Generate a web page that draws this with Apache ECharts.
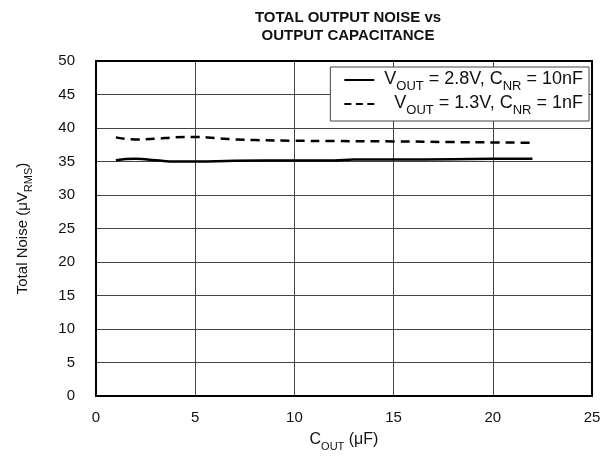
<!DOCTYPE html>
<html>
<head>
<meta charset="utf-8">
<script src="https://cdn.jsdelivr.net/npm/echarts@6/dist/echarts.min.js"></script>
<style>
html,body{margin:0;padding:0;background:#fff;}
#graph{width:614px;height:459px;}
</style>
</head>
<body>
<div id="graph"></div>
<script>
// values
var xSolid = [1, 2, 3, 4, 5, 7, 10, 12, 13, 15, 18, 20, 22];
var ySolid = [35.2, 35.4, 35.2, 35.0, 35.0, 35.1, 35.15, 35.15, 35.3, 35.3, 35.35, 35.4, 35.4];
var xDash = [1, 2, 3, 4, 5, 6, 7, 8, 10, 12, 15, 18, 20, 22];
var yDash = [38.6, 38.3, 38.4, 38.6, 38.65, 38.5, 38.3, 38.2, 38.1, 38.05, 38.0, 37.9, 37.85, 37.8];
var xTicks = [0, 25, 5];
var yTicks = [0, 50, 5];

function pairs(xs, ys){
    var out = [];
    for (var i = 0; i < xs.length; i++) { out.push([xs[i], ys[i]]); }
    return out;
}

var font = 'Liberation Sans, Arial, sans-serif';
var chart = echarts.init(document.getElementById('graph'));

var option = {
    backgroundColor: '#fff',
    animation: false,
    title: {
        text: 'TOTAL OUTPUT NOISE vs\nOUTPUT CAPACITANCE',
        left: 343,
        top: 4,
        textAlign: 'center',
        textStyle: {
            fontFamily: font,
            fontWeight: 'bold',
            fontSize: 15,
            lineHeight: 18,
            color: '#111'
        }
    },
    grid: {
        left: 96,
        right: 22,
        top: 61,
        bottom: 63,
        show: true,
        borderColor: '#000',
        borderWidth: 2,
        z: 10
    },
    legend: {
        right: 25,
        top: 67,
        orient: 'vertical',
        backgroundColor: '#fff',
        borderColor: '#444',
        borderWidth: 1,
        borderRadius: 0,
        padding: [3, 6, 3, 14],
        itemGap: 0,
        itemWidth: 30,
        itemHeight: 3,
        align: 'left',
        data: [
            {name: 's1', icon: 'path://M0,0 L30,0 L30,2 L0,2 Z', itemStyle: {color: '#000'}},
            {name: 's2', icon: 'path://M0,0 L7,0 L7,2 L0,2 Z M11.5,0 L18.5,0 L18.5,2 L11.5,2 Z M23,0 L30,0 L30,2 L23,2 Z', itemStyle: {color: '#000'}}
        ],
        formatter: function(name){
            if (name === 's1') {
                return '{n| V}{s|OUT}{n| = 2.8V, C}{s|NR}{n| = 10nF}';
            }
            return '{n|   V}{s|OUT}{n| = 1.3V, C}{s|NR}{n| = 1nF}';
        },
        textStyle: {
            fontSize: 18,
            fontFamily: font,
            rich: {
                n: {fontFamily: font, fontSize: 18, color: '#111', lineHeight: 28, verticalAlign: 'bottom', padding: [0, 0, 6, 0]},
                s: {fontFamily: font, fontSize: 13, color: '#111', lineHeight: 28, verticalAlign: 'bottom', padding: [0, 0, 1, 0]}
            }
        }
    },
    xAxis: {
        type: 'value',
        min: xTicks[0],
        max: xTicks[1],
        interval: xTicks[2],
        name: '{n|C}{s|OUT}{n| (μF)}',
        nameLocation: 'middle',
        nameGap: 34,
        nameTextStyle: {
            rich: {
                n: {fontFamily: font, fontSize: 16, color: '#111', lineHeight: 22, verticalAlign: 'bottom', padding: [0, 0, 4, 0]},
                s: {fontFamily: font, fontSize: 11, color: '#111', lineHeight: 22, verticalAlign: 'bottom', padding: [0, 0, 0, 0]}
            }
        },
        axisLine: {show: false},
        axisTick: {show: false},
        axisLabel: {fontFamily: font, fontSize: 15, color: '#111', margin: 14},
        splitLine: {show: true, lineStyle: {color: '#444', width: 1}}
    },
    yAxis: {
        type: 'value',
        min: yTicks[0],
        max: yTicks[1],
        interval: yTicks[2],
        name: '{n|Total Noise (μV}{s|RMS}{n|)}',
        nameLocation: 'middle',
        nameRotate: 90,
        nameGap: 62,
        nameTextStyle: {
            rich: {
                n: {fontFamily: font, fontSize: 15, color: '#111', lineHeight: 22, verticalAlign: 'bottom', padding: [0, 0, 4, 0]},
                s: {fontFamily: font, fontSize: 11, color: '#111', lineHeight: 22, verticalAlign: 'bottom', padding: [0, 0, 0, 0]}
            }
        },
        axisLine: {show: false},
        axisTick: {show: false},
        axisLabel: {fontFamily: font, fontSize: 15, color: '#111', margin: 21},
        splitLine: {show: true, lineStyle: {color: '#444', width: 1}}
    },
    series: [
        {
            name: 's1',
            type: 'line',
            data: pairs(xSolid, ySolid),
            smooth: true,
            symbol: 'none',
            lineStyle: {color: '#000', width: 2.5, type: 'solid'}
        },
        {
            name: 's2',
            type: 'line',
            data: pairs(xDash, yDash),
            smooth: true,
            symbol: 'none',
            lineStyle: {color: '#000', width: 2.5, type: [9, 6]}
        }
    ]
};
chart.setOption(option);
</script>
</body>
</html>
